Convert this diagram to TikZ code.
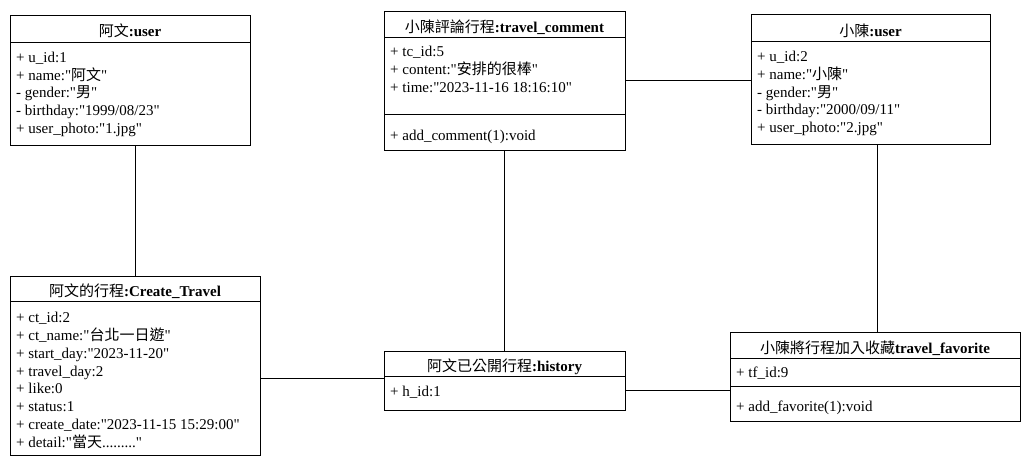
\documentclass[tikz,border=0pt]{standalone}
\usepackage{fontspec}
\setmainfont{Liberation Serif}[Ligatures=TeXOff]
\newfontfamily\cjk{Noto Sans CJK TC}
\usetikzlibrary{calc}
\begin{document}
\begin{tikzpicture}[x=1pt,y=-1pt,
  box/.style={draw,line width=1pt,anchor=north west,inner sep=0pt,outer sep=0pt},
  row/.style={anchor=base west,inner sep=0pt,font=\fontsize{15}{17}\selectfont},
  ttl/.style={anchor=base,inner sep=0pt,font=\fontsize{15}{17}\selectfont},
  sep/.style={line width=1pt},
  link/.style={line width=1pt}]
\useasboundingbox[fill=white] (0,0) rectangle (1031,469);

% ---- 阿文:user
\node[box,minimum width=240pt,minimum height=130pt] (u1) at (10,15) {};
\draw[sep] (10,42) -- (250,42);
\node[ttl] (u1t) at (130,36) {{\cjk 阿文}\textbf{:user}};
\node[row] (u1a) at (16,62.3) {+ u\_id:1};
\node[row] (u1b) at (16,80.05) {+ name:"{\cjk 阿文}"};
\node[row] (u1c) at (16,97.8) {- gender:"{\cjk 男}"};
\node[row] (u1d) at (16,115.55) {- birthday:"1999/08/23"};
\node[row] (u1e) at (16,133.3) {+ user\_photo:"1.jpg"};

% ---- 小陳評論行程:travel_comment
\node[box,minimum width=241pt,minimum height=139pt] (tc) at (384,11) {};
\draw[sep] (384,37) -- (625,37);
\draw[sep] (384,114) -- (625,114);
\node[ttl] (tct) at (504.5,32) {{\cjk 小陳評論行程}\textbf{:travel\_comment}};
\node[row] (tca) at (390,56.7) {+ tc\_id:5};
\node[row] (tcb) at (390,74.45) {+ content:"{\cjk 安排的很棒}"};
\node[row] (tcc) at (390,92.2) {+ time:"2023-11-16 18:16:10"};
\node[row] (tcm) at (390,140) {+ add\_comment(1):void};

% ---- 小陳:user
\node[box,minimum width=239pt,minimum height=130pt] (u2) at (751,14) {};
\draw[sep] (751,41) -- (990,41);
\node[ttl] (u2t) at (870.5,36.5) {{\cjk 小陳}\textbf{:user}};
\node[row] (u2a) at (757,61.7) {+ u\_id:2};
\node[row] (u2b) at (757,79.45) {+ name:"{\cjk 小陳}"};
\node[row] (u2c) at (757,97.2) {- gender:"{\cjk 男}"};
\node[row] (u2d) at (757,114.95) {- birthday:"2000/09/11"};
\node[row] (u2e) at (757,132.7) {+ user\_photo:"2.jpg"};

% ---- 阿文的行程:Create_Travel
\node[box,minimum width=250pt,minimum height=179pt] (ct) at (10,276) {};
\draw[sep] (10,301) -- (260,301);
\node[ttl] (ctt) at (135,296.5) {{\cjk 阿文的行程}\textbf{:Create\_Travel}};
\node[row] (cta) at (16,322.7) {+ ct\_id:2};
\node[row] (ctb) at (16,340.5) {+ ct\_name:"{\cjk 台北一日遊}"};
\node[row] (ctc) at (16,358.3) {+ start\_day:"2023-11-20"};
\node[row] (ctd) at (16,376.1) {+ travel\_day:2};
\node[row] (cte) at (16,393.9) {+ like:0};
\node[row] (ctf) at (16,411.7) {+ status:1};
\node[row] (ctg) at (16,429.5) {+ create\_date:"2023-11-15 15:29:00"};
\node[row] (cth) at (16,447.3) {+ detail:"{\cjk 當天}........."};

% ---- 阿文已公開行程:history
\node[box,minimum width=241pt,minimum height=59pt] (hi) at (384,351) {};
\draw[sep] (384,376) -- (625,376);
\node[ttl] (hit) at (504.5,371.5) {{\cjk 阿文已公開行程}\textbf{:history}};
\node[row] (hia) at (390,396.7) {+ h\_id:1};

% ---- 小陳將行程加入收藏travel_favorite
\node[box,minimum width=290pt,minimum height=89pt] (fav) at (730,332) {};
\draw[sep] (730,358) -- (1020,358);
\draw[sep] (730,386) -- (1020,386);
\node[ttl] (favt) at (875,353) {{\cjk 小陳將行程加入收藏}\textbf{travel\_favorite}};
\node[row] (fava) at (736,377.3) {+ tf\_id:9};
\node[row] (favm) at (736,411) {+ add\_favorite(1):void};

% ---- connectors
\coordinate (c1) at ($(ct.north)$);
\draw[link] (u1.south -| c1) -- (ct.north);
\coordinate (c2) at ($(tc.north east)+(0,69)$);
\draw[link] (c2) -- (c2 -| u2.west);
\draw[link] (tc.south) -- (hi.north);
\coordinate (c3) at (877,0);
\draw[link] (u2.south -| c3) -- (fav.north -| c3);
\coordinate (c4) at ($(ct.north east)+(0,102)$);
\draw[link] (c4) -- (c4 -| hi.west);
\coordinate (c5) at ($(hi.north east)+(0,39)$);
\draw[link] (c5) -- (c5 -| fav.west);
\end{tikzpicture}
\end{document}
